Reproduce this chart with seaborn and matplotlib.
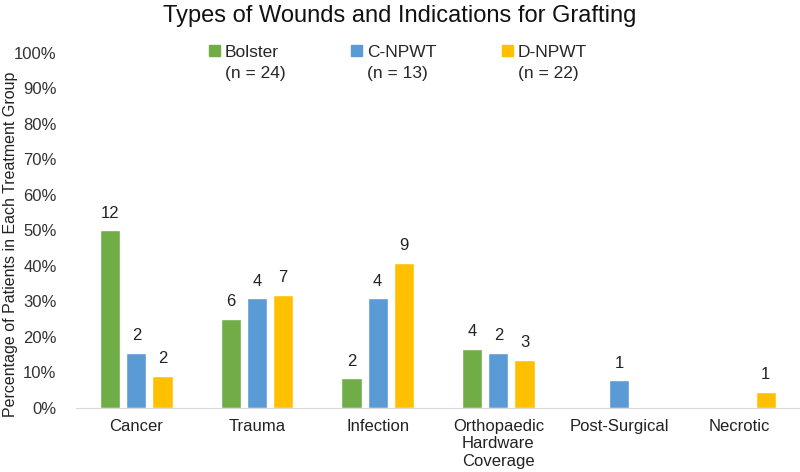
import seaborn as sns
import matplotlib.pyplot as plt
import pandas as pd

categories = ["Cancer", "Trauma", "Infection", "Orthopaedic\nHardware\nCoverage", "Post-Surgical", "Necrotic"]
groups = ["Bolster", "C-NPWT", "D-NPWT"]
group_n = [24, 13, 22]

bolster_pct = [50.0, 25.0, 8.3, 16.7, 0.0, 0.0]
cnpwt_pct = [15.4, 30.8, 30.8, 15.4, 7.7, 0.0]
dnpwt_pct = [9.1, 31.8, 40.9, 13.6, 0.0, 4.5]

bolster_n = [12, 6, 2, 4, 0, 0]
cnpwt_n = [2, 4, 4, 2, 1, 0]
dnpwt_n = [2, 7, 9, 3, 0, 1]

colors = ["#70AD47", "#5B9BD5", "#FFC000"]

rows = []
for g, pcts in zip(groups, [bolster_pct, cnpwt_pct, dnpwt_pct]):
    for c, p in zip(categories, pcts):
        rows.append({"wound": c, "group": g, "pct": p})
df = pd.DataFrame(rows)

sns.set_style("white")
plt.rcParams["font.family"] = ["Liberation Sans", "DejaVu Sans"]

fig = plt.figure(figsize=(8, 4.72), dpi=100)
ax = fig.add_axes([0.095, 0.136, 0.905, 0.752])

sns.barplot(data=df, x="wound", y="pct", hue="group", order=categories, hue_order=groups,
            palette=colors, saturation=1, width=0.65, gap=0.23, ax=ax, legend=False)

#count labels on top of bars
for cont, counts in zip(ax.containers, [bolster_n, cnpwt_n, dnpwt_n]):
    labs = [str(n) if n > 0 else "" for n in counts]
    ax.bar_label(cont, labels=labs, padding=7, fontsize=12, color="#222222")

ax.set_ylim(0, 100)
ax.set_yticks(range(0, 101, 10))
ax.set_yticklabels([f"{v}%" for v in range(0, 101, 10)], fontsize=12, color="#333333")
ax.tick_params(axis="x", labelsize=12, labelcolor="#222222", length=0, pad=8)
ax.tick_params(axis="y", length=0, pad=14)
ax.set_xlabel("")
ax.set_ylabel("Percentage of Patients in Each Treatment Group", fontsize=11.5, color="#222222")
ax.yaxis.set_label_coords(-0.08, 0.46)
sns.despine(ax=ax, left=True)
ax.spines["bottom"].set_color("#D9D9D9")

handles = [plt.Rectangle((0, 0), 1, 1, color=c) for c in colors]
labels = [f"{g}\n(n = {n})" for g, n in zip(groups, group_n)]
leg = ax.legend(handles, labels, ncol=3, loc="upper center", bbox_to_anchor=(0.445, 1.065), frameon=False,
                fontsize=12.5, handlelength=0.6, handleheight=0.6, handletextpad=0.3, columnspacing=3.8)
for t in leg.get_texts():
    t.set_linespacing(1.5)
# squares sit next to the first line, like the original
for h in leg.legend_handles:
    h.set_y(h.get_y() + 9)

fig.suptitle("Types of Wounds and Indications for Grafting", fontsize=17, y=0.99, color="#111111")

fig.savefig("out.png", dpi=100)
